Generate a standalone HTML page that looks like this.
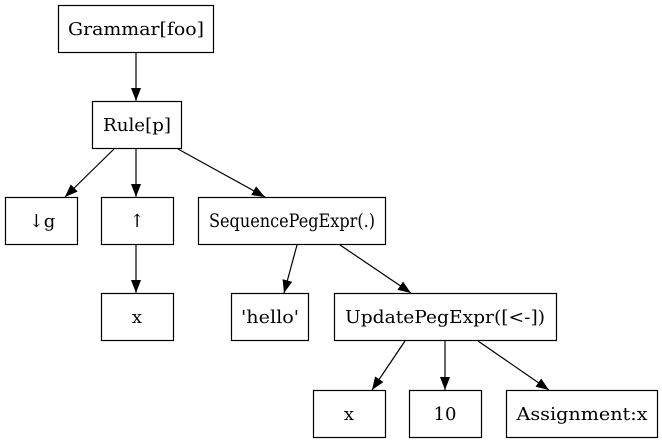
<!DOCTYPE html>
<html><head><meta charset="utf-8"><style>
html,body{margin:0;padding:0;background:#fff;}
svg{display:block;}
text{font-family:"DejaVu Serif","Liberation Serif",serif;font-size:18px;fill:#000;}
</style></head><body>
<svg width="662" height="443" viewBox="0 0 662 443" xmlns="http://www.w3.org/2000/svg">
<defs>
<marker id="a" markerWidth="13" markerHeight="10" refX="13" refY="5" orient="auto" markerUnits="userSpaceOnUse">
<polygon points="0,0 13,5 0,10" fill="#000"/>
</marker>
</defs>
<g fill="none" stroke="#000" stroke-width="1.2">
<rect x="58.5" y="5.5" width="155" height="47"/>
<rect x="92.5" y="101.5" width="89" height="47"/>
<rect x="5.5" y="197.5" width="72" height="47"/>
<rect x="101.5" y="197.5" width="72" height="47"/>
<rect x="198.5" y="197.5" width="187" height="47"/>
<rect x="101.5" y="293.5" width="72" height="47"/>
<rect x="231.5" y="293.5" width="77" height="47"/>
<rect x="334.5" y="293.5" width="222" height="47"/>
<rect x="313.5" y="390.5" width="72" height="47"/>
<rect x="409.5" y="390.5" width="72" height="47"/>
<rect x="506.5" y="390.5" width="151" height="47"/>
<g marker-end="url(#a)">
<line x1="136" y1="53" x2="136" y2="101"/>
<line x1="114" y1="149" x2="65" y2="197"/>
<line x1="136" y1="149" x2="136" y2="197"/>
<line x1="178" y1="149" x2="265" y2="197"/>
<line x1="136" y1="245" x2="136" y2="293"/>
<line x1="297" y1="245" x2="284" y2="293"/>
<line x1="340" y1="245" x2="411" y2="293"/>
<line x1="405" y1="341" x2="372" y2="390"/>
<line x1="445" y1="341" x2="445" y2="390"/>
<line x1="478" y1="341" x2="549" y2="390"/>
</g>
</g>
<g text-anchor="middle">
<text x="136" y="35" textLength="136" lengthAdjust="spacingAndGlyphs">Grammar[foo]</text>
<text x="137" y="131" textLength="68" lengthAdjust="spacingAndGlyphs">Rule[p]</text>
<text x="42" y="227">↓g</text>
<text x="137" y="227">↑</text>
<text x="292" y="227" style="font-size:19px" textLength="166" lengthAdjust="spacingAndGlyphs">SequencePegExpr(.)</text>
<text x="137" y="323">x</text>
<text x="270" y="323" textLength="58" lengthAdjust="spacingAndGlyphs">'hello'</text>
<text x="445" y="323" textLength="200" lengthAdjust="spacingAndGlyphs">UpdatePegExpr([&lt;-])</text>
<text x="349" y="420">x</text>
<text x="445" y="420">10</text>
<text x="582" y="420" textLength="131" lengthAdjust="spacingAndGlyphs">Assignment:x</text>
</g>
</svg>
</body></html>
